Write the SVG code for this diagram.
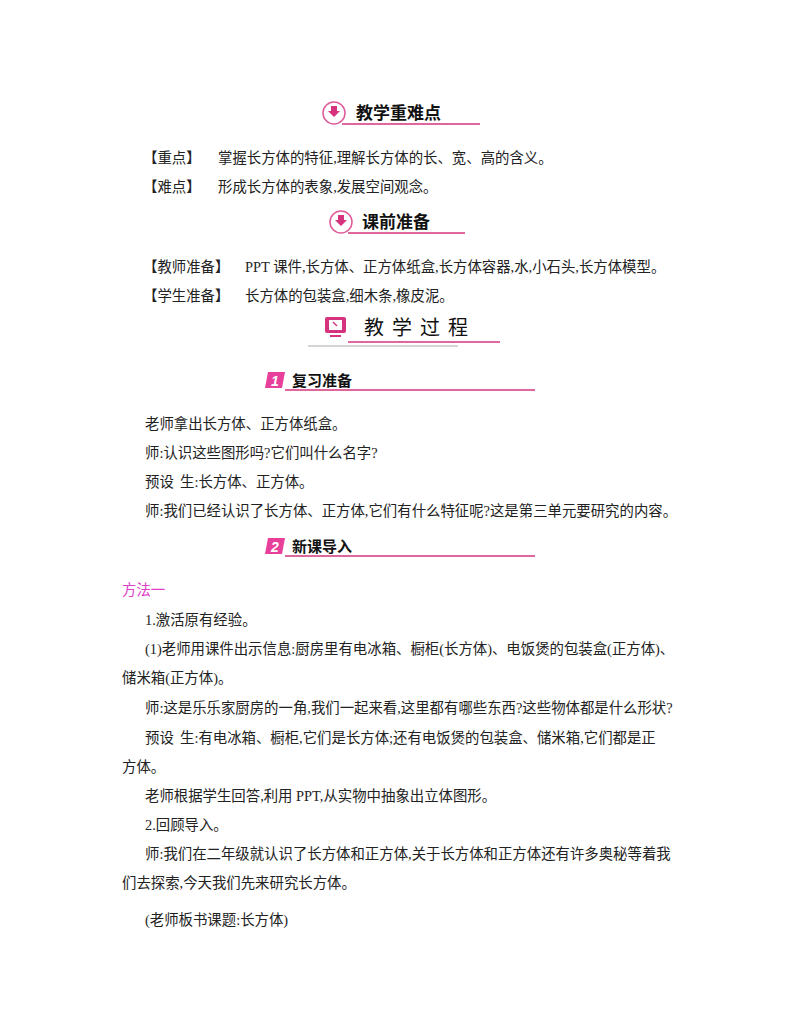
<svg xmlns="http://www.w3.org/2000/svg" width="800" height="1028" viewBox="0 0 800 1028">
<style>
.t{font-family:"Liberation Serif","Noto Sans CJK SC",serif;font-size:14.4px;fill:#222}
.h{font-family:"Noto Sans CJK SC",sans-serif;font-size:17px;fill:#111;font-weight:bold}
.h2{font-family:"Noto Sans CJK SC",sans-serif;font-size:15px;fill:#111;font-weight:bold}
.pl{stroke:#d6337e;stroke-width:1.3}
</style>
<rect width="800" height="1028" fill="#fff"/>
<g id="h1">
<circle cx="334" cy="113" r="11" fill="#fff" stroke="#e05a9a" stroke-width="1.5"/>
<path d="M331 106h6v5h3l-6 6-6-6h3z" fill="#d6337e"/>
<text class="h" x="356" y="119">教学重难点</text>
<line class="pl" x1="342" y1="124" x2="480" y2="124"/>
</g>
<g id="h2g">
<circle cx="341" cy="222" r="11" fill="#fff" stroke="#e05a9a" stroke-width="1.5"/>
<path d="M338 215h6v5h3l-6 6-6-6h3z" fill="#d6337e"/>
<text class="h" x="362" y="228">课前准备</text>
<line class="pl" x1="348" y1="233" x2="465" y2="233"/>
</g>
<g id="h3">
<rect x="325" y="317" width="21" height="16" rx="2" fill="#d6337e"/>
<rect x="329" y="320" width="13" height="10" fill="#fff"/>
<path d="M333 322l4 4" stroke="#d6337e" stroke-width="1.5"/>
<rect x="330" y="335" width="11" height="2" fill="#d6337e"/>
<text x="364" y="335" style="font-family:'Noto Sans CJK SC',sans-serif;font-size:20px;letter-spacing:8px;fill:#111">教学过程</text>
<line class="pl" x1="348" y1="342" x2="500" y2="342"/>
<line x1="308" y1="346" x2="458" y2="346" stroke="#aaa" stroke-width="1"/>
</g>
<g id="s1">
<path d="M268 372h17l-3 16h-17z" fill="#e8409a"/>
<text x="271" y="386" style="font-family:'Liberation Sans',sans-serif;font-style:italic;font-weight:bold;font-size:14px;fill:#fff">1</text>
<text class="h2" x="292" y="386">复习准备</text>
<line class="pl" x1="285" y1="390" x2="535" y2="390" stroke-width="1"/>
</g>
<g id="s2">
<path d="M268 538h17l-3 16h-17z" fill="#e8409a"/>
<text x="271" y="552" style="font-family:'Liberation Sans',sans-serif;font-style:italic;font-weight:bold;font-size:14px;fill:#fff">2</text>
<text class="h2" x="292" y="552">新课导入</text>
<line class="pl" x1="285" y1="556" x2="535" y2="556" stroke-width="1"/>
</g>
<g id="body">
<text class="t" x="143" y="163">【重点】</text><text class="t" x="218" y="163">掌握长方体的特征,理解长方体的长、宽、高的含义。</text>
<text class="t" x="143" y="192">【难点】</text><text class="t" x="218" y="192">形成长方体的表象,发展空间观念。</text>
<text class="t" x="143" y="272">【教师准备】</text><text class="t" x="245" y="272">PPT 课件,长方体、正方体纸盒,长方体容器,水,小石头,长方体模型。</text>
<text class="t" x="143" y="301">【学生准备】</text><text class="t" x="245" y="301">长方体的包装盒,细木条,橡皮泥。</text>
<text class="t" x="145" y="429">老师拿出长方体、正方体纸盒。</text>
<text class="t" x="145" y="458">师:认识这些图形吗?它们叫什么名字?</text>
<text class="t" x="145" y="487">预设</text><text class="t" x="180" y="487">生:长方体、正方体。</text>
<text class="t" x="145" y="516">师:我们已经认识了长方体、正方体,它们有什么特征呢?这是第三单元要研究的内容。</text>
<text class="t" x="122" y="595" style="fill:#e040c8">方法一</text>
<text class="t" x="145" y="625">1.激活原有经验。</text>
<text class="t" x="145" y="654">(1)老师用课件出示信息:厨房里有电冰箱、橱柜(长方体)、电饭煲的包装盒(正方体)、</text>
<text class="t" x="122" y="683">储米箱(正方体)。</text>
<text class="t" x="145" y="713">师:这是乐乐家厨房的一角,我们一起来看,这里都有哪些东西?这些物体都是什么形状?</text>
<text class="t" x="145" y="743">预设</text><text class="t" x="180" y="743">生:有电冰箱、橱柜,它们是长方体;还有电饭煲的包装盒、储米箱,它们都是正</text>
<text class="t" x="122" y="772">方体。</text>
<text class="t" x="145" y="801">老师根据学生回答,利用 PPT,从实物中抽象出立体图形。</text>
<text class="t" x="145" y="830">2.回顾导入。</text>
<text class="t" x="145" y="859">师:我们在二年级就认识了长方体和正方体,关于长方体和正方体还有许多奥秘等着我</text>
<text class="t" x="122" y="888">们去探索,今天我们先来研究长方体。</text>
<text class="t" x="145" y="925">(老师板书课题:长方体)</text>
</g>
</svg>
